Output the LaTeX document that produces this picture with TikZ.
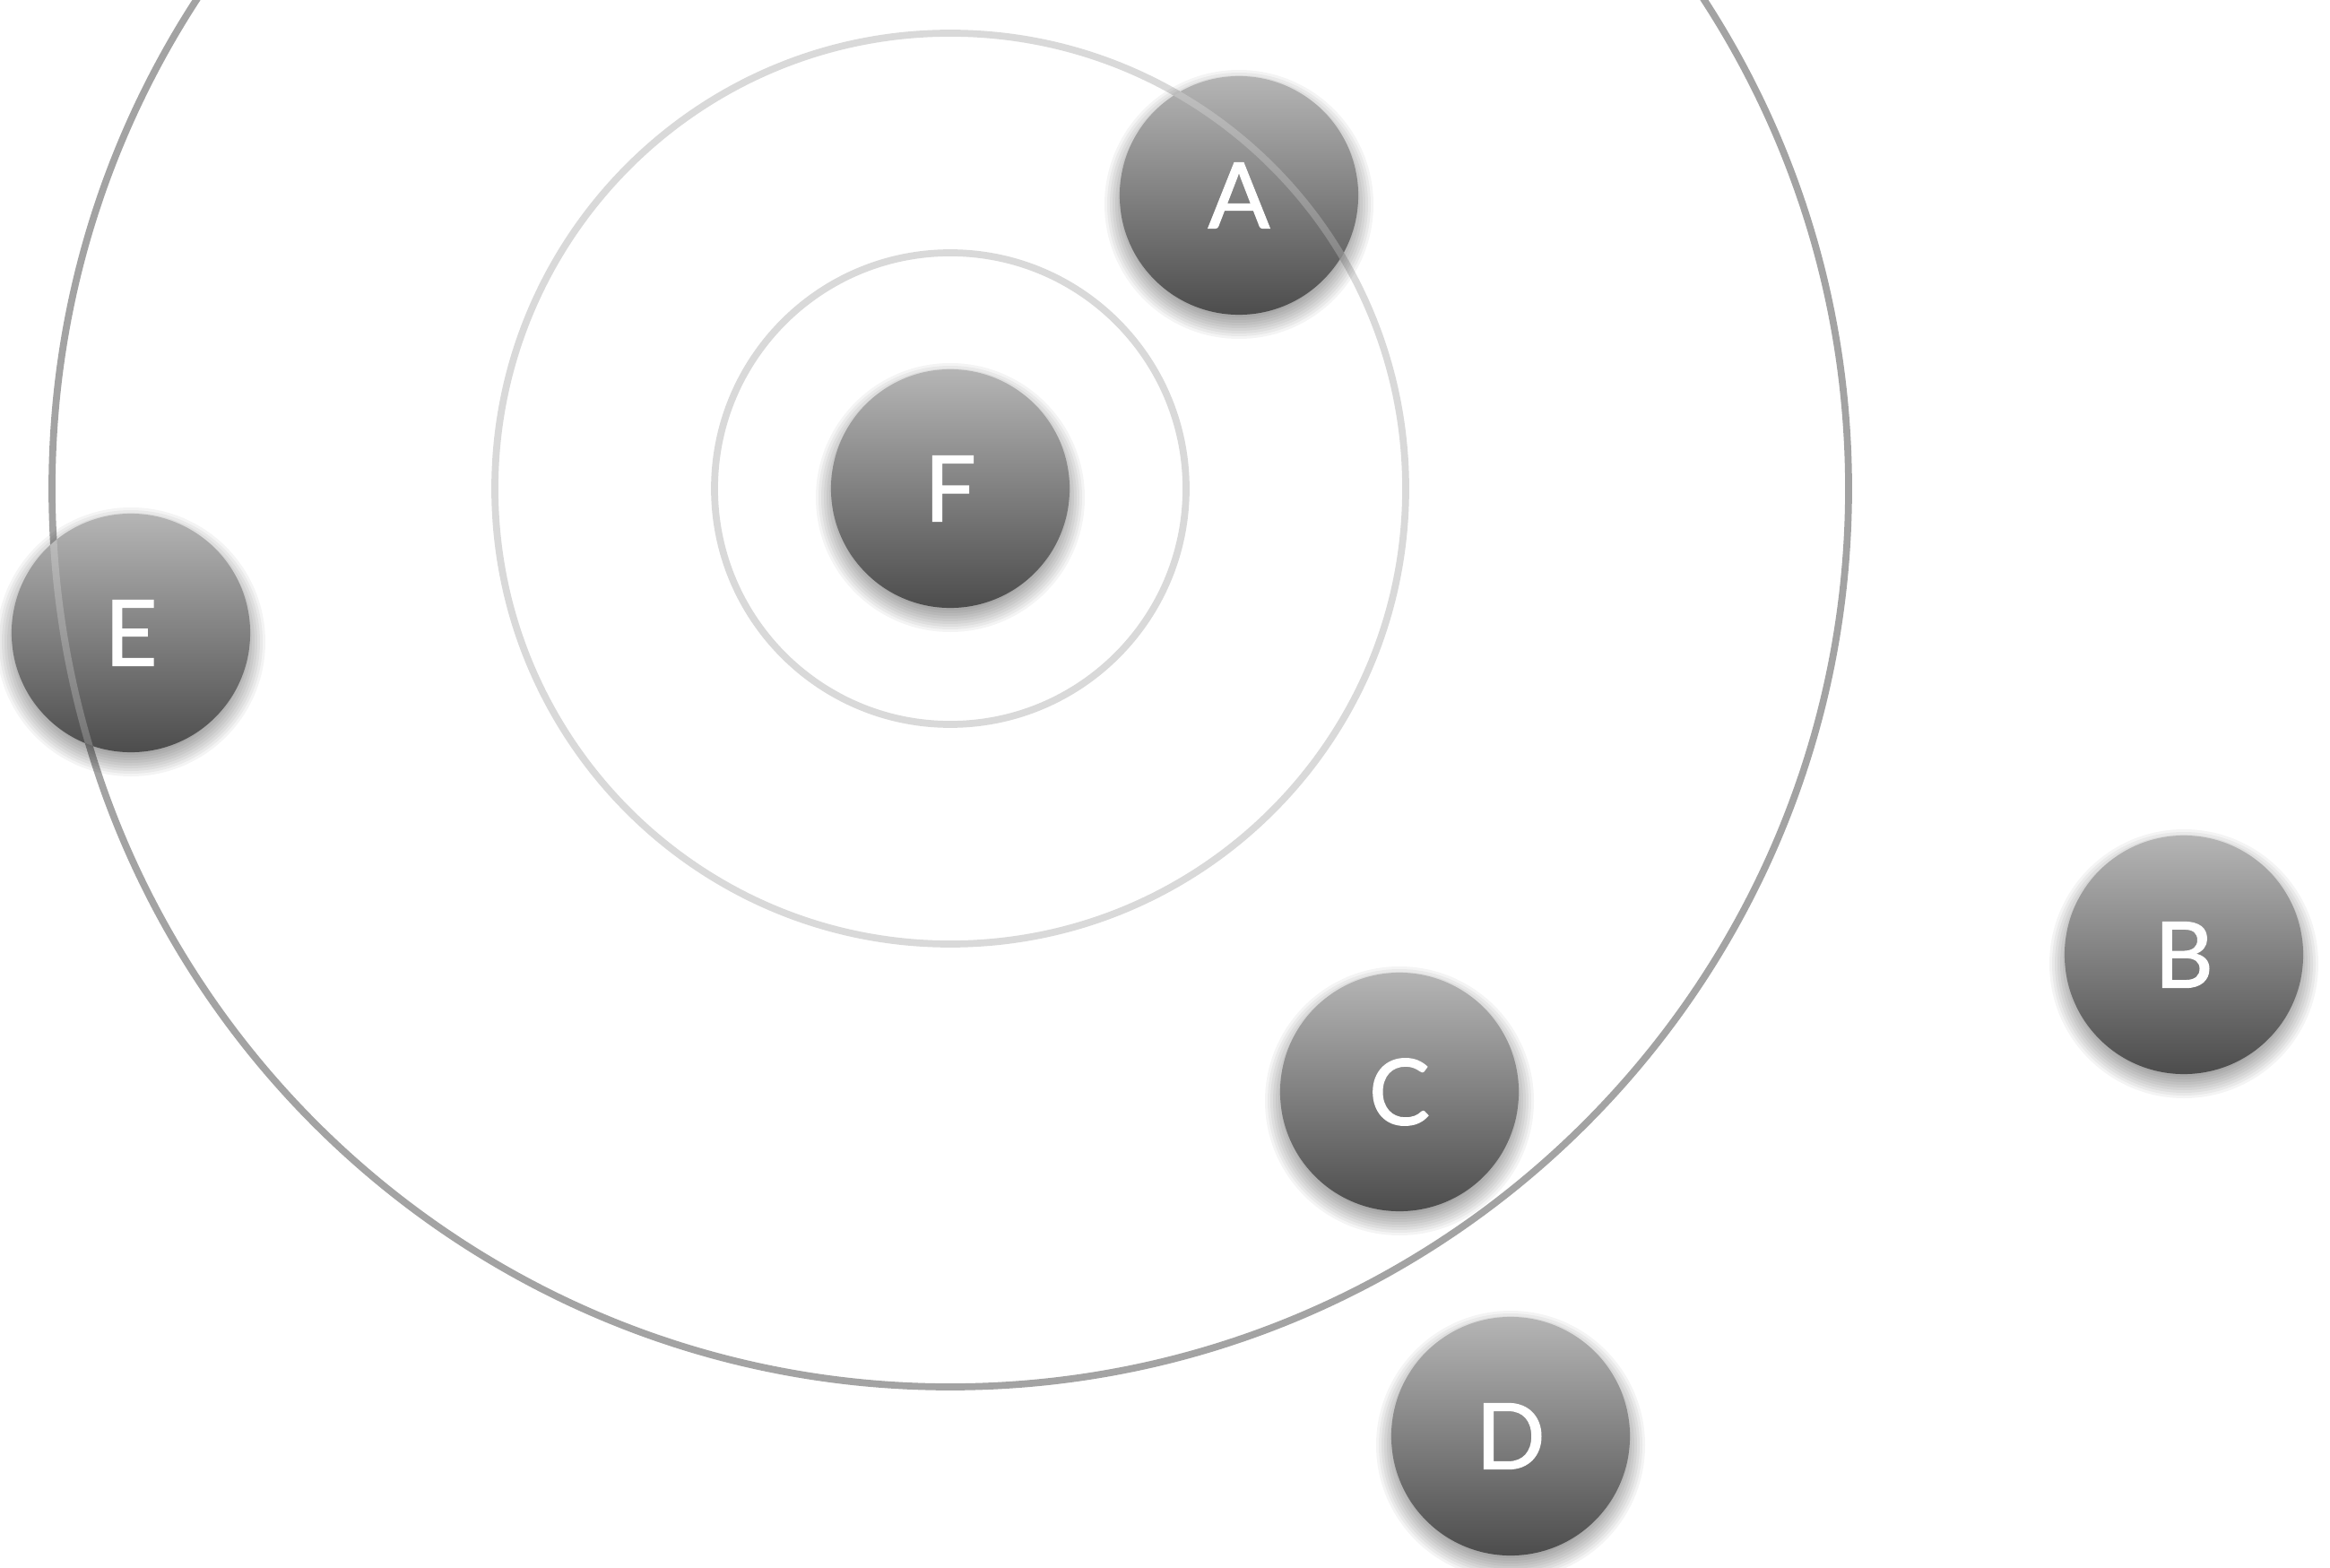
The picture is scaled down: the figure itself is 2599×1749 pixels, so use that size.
\documentclass[tikz,border=0pt]{standalone}
\usepackage{fontspec}
\setmainfont{Lato}
\newfontfamily\ballfont{Lato}[FakeBold=1.2]
\tikzset{
  ring/.style={line width=2.2pt},
  ringlight/.style={ring, draw=black!15},
  ringdark/.style={ring, draw=black!36},
  ball/.style={circle, minimum size=2.66cm, inner sep=0pt,
    top color=black!29, bottom color=black!70, draw=none,
    text=white, font=\ballfont\fontsize{29}{29}\selectfont},
  overlay ring/.style={ring, draw=white, opacity=0.22}
}
\newcommand{\ballshadow}[1]{%
  \foreach \r in {150,147,...,126}{
    \fill[black, opacity=0.045] ([yshift=-0.1cm]#1) circle[radius=\r];
  }%
}
\begin{document}
\begin{tikzpicture}[x=0.01cm, y=-0.01cm]
\useasboundingbox[fill=white] (0,0) rectangle (2599,1749);
\coordinate (ctr) at (1060,545);
\draw[ringlight] (ctr) circle[radius=263];
\draw[ringlight] (ctr) circle[radius=508];
\draw[ringdark] (ctr) circle[radius=1002];
\coordinate (pF) at (1060,545);
\coordinate (pA) at (1382,218);
\coordinate (pE) at (146,706);
\coordinate (pB) at (2436,1065);
\coordinate (pC) at (1561,1218);
\coordinate (pD) at (1685,1602);
\foreach \p in {pF,pA,pE,pB,pC,pD}{\ballshadow{\p}}
\node[ball] (F) at (pF) {F};
\node[ball] (A) at (pA) {A};
\node[ball] (E) at (pE) {E};
\node[ball] (B) at (pB) {B};
\node[ball] (C) at (pC) {C};
\node[ball] (D) at (pD) {D};
\begin{scope}
\clip (A) circle[radius=133] (E) circle[radius=133] (C) circle[radius=133];
\draw[overlay ring] (ctr) circle[radius=508];
\draw[overlay ring] (ctr) circle[radius=1002];
\end{scope}
\end{tikzpicture}
\end{document}
